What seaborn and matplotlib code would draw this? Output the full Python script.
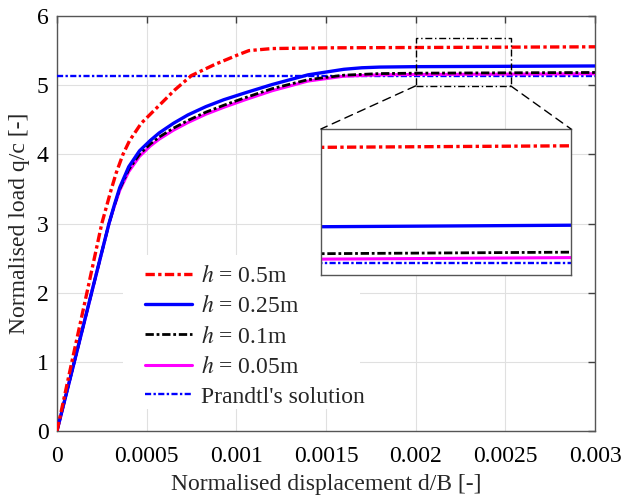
import numpy as np
import pandas as pd
import matplotlib
matplotlib.use('Agg')
import matplotlib.pyplot as plt
from matplotlib.patches import Rectangle, ConnectionPatch
import seaborn as sns

# ─── Data ───────────────────────────────────────────────────────────────────
x_h050 = [0, 0.000083, 0.000167, 0.00025, 0.0003, 0.00033, 0.000368, 0.000405, 0.00047,
          0.000563, 0.000656, 0.00075, 0.00088, 0.00101, 0.00107, 0.0012, 0.0015,
          0.002, 0.0025, 0.003]
q_h050 = [0, 1.0, 2.0, 3.0, 3.47, 3.73, 4.0, 4.2, 4.45,
          4.69, 4.93, 5.14, 5.3, 5.44, 5.5, 5.53, 5.54,
          5.545, 5.55, 5.555]

x_h025 = [0, 0.0000967, 0.000193, 0.00029, 0.00032, 0.00035, 0.0004, 0.00046, 0.00052,
          0.00057, 0.00065, 0.00073, 0.00083, 0.00093, 0.00105, 0.0012, 0.0014, 0.0016,
          0.0017, 0.0018, 0.002, 0.0025, 0.003]
q_h025 = [0, 1.0, 2.0, 3.0, 3.27, 3.52, 3.82, 4.05, 4.2,
          4.31, 4.45, 4.57, 4.69, 4.79, 4.89, 5.01, 5.15, 5.23,
          5.252, 5.262, 5.268, 5.273, 5.278]

x_h010 = [0, 0.0000967, 0.000193, 0.00029, 0.00032, 0.00035, 0.0004, 0.00046, 0.00052,
          0.00057, 0.00065, 0.00073, 0.00083, 0.00093, 0.00105, 0.0012, 0.0014, 0.0016,
          0.0018, 0.002, 0.0025, 0.003]
q_h010 = [0, 1.0, 2.0, 3.0, 3.26, 3.5, 3.78, 4.0, 4.15,
          4.25, 4.38, 4.49, 4.61, 4.71, 4.82, 4.95, 5.08, 5.145,
          5.168, 5.174, 5.179, 5.184]

x_h005 = [0, 0.0000967, 0.000193, 0.00029, 0.00032, 0.00035, 0.0004, 0.00046, 0.00052,
          0.00057, 0.00065, 0.00073, 0.00083, 0.00093, 0.00105, 0.0012, 0.0014, 0.0016,
          0.0018, 0.002, 0.0025, 0.003]
q_h005 = [0, 1.0, 2.0, 3.0, 3.25, 3.48, 3.75, 3.97, 4.12,
          4.22, 4.35, 4.46, 4.58, 4.68, 4.79, 4.92, 5.06, 5.13,
          5.15, 5.155, 5.16, 5.165]

x_prandtl = [0, 0.003]
q_prandtl = [5.14, 5.14]

labels = [r'$h$ = 0.5m', r'$h$ = 0.25m', r'$h$ = 0.1m', r'$h$ = 0.05m', "Prandtl's solution"]

sns.set_style('white')
plt.rcParams['font.family'] = ['Liberation Serif', 'DejaVu Serif']
plt.rcParams['mathtext.fontset'] = 'stix'
plt.rcParams['font.size'] = 17

series = [
    (x_h050, q_h050, dict(color='#ff0000', lw=2.4, linestyle=(0, (2.8, 1, 1, 1)))),
    (x_h025, q_h025, dict(color='#0000ff', lw=2.4, linestyle='-')),
    (x_h010, q_h010, dict(color='#000000', lw=2.0, linestyle=(0, (3, 1, 1, 1)))),
    (x_h005, q_h005, dict(color='#ff00ff', lw=2.2, linestyle='-')),
    (x_prandtl, q_prandtl, dict(color='#0000ff', lw=1.7, linestyle=(0, (2.6, 1, 1, 1)))),
]
draw_order = [4, 3, 2, 1, 0]

fig = plt.figure(figsize=(6.22, 4.98), dpi=100)
ax = fig.add_axes([0.0916, 0.1345, 0.865, 0.8333])

for i in draw_order:
    xs, qs, st = series[i]
    df = pd.DataFrame({'d': xs, 'q': qs})
    sns.lineplot(data=df, x='d', y='q', sort=False, estimator=None, ax=ax,
                 label=labels[i], zorder=3 + (4 - i) * 0.1, **st)

ax.set_xlim(0, 0.003)
ax.set_ylim(0, 6)
ax.set_xticks([0, 0.0005, 0.001, 0.0015, 0.002, 0.0025, 0.003])
ax.set_xticklabels(['0', '0.0005', '0.001', '0.0015', '0.002', '0.0025', '0.003'])
ax.set_yticks(range(0, 7))
ax.set_xlabel('Normalised displacement d/B [-]', fontsize=17, labelpad=5)
ax.set_ylabel('Normalised load q/c [-]', fontsize=17, labelpad=5)
ax.grid(True, color='#e0e0e0', lw=0.8)
ax.tick_params(direction='in', length=5, width=1, colors='#404040', labelcolor='black',
               labelsize=17, top=True, right=True)
ax.tick_params(axis='x', pad=11)
ax.tick_params(axis='y', pad=6)
for sp in ax.spines.values():
    sp.set_color('#555555')
    sp.set_linewidth(1.0)

# white patch behind the legend (covers the grid)
ax.add_patch(Rectangle((0.122, 0.053), 0.441, 0.372, transform=ax.transAxes,
                       fc='white', ec='none', zorder=1))

# legend in original order
handles, labs = ax.get_legend_handles_labels()
order = [labs.index(l) for l in labels]
leg = ax.legend([handles[k] for k in order], [labs[k] for k in order],
                loc='upper left', bbox_to_anchor=(0.163, 0.400), borderaxespad=0,
                frameon=False, fontsize=17, handlelength=2.0, handletextpad=0.4,
                labelspacing=0.35, borderpad=0)

# zoom rectangle and inset
rx0, rx1, ry0, ry1 = 0.002, 0.00253, 4.99, 5.68
ax.add_patch(Rectangle((rx0, ry0), rx1 - rx0, ry1 - ry0, fill=False, ec='black',
                       lw=1.0, linestyle=(0, (5, 2, 1, 2)), zorder=6))

axins = fig.add_axes([0.516, 0.448, 0.402, 0.293])
for i in draw_order:
    xs, qs, st = series[i]
    df = pd.DataFrame({'d': xs, 'q': qs})
    sns.lineplot(data=df, x='d', y='q', sort=False, estimator=None, ax=axins, **st)
axins.set_xlim(0.002, 0.00253)
axins.set_ylim(5.1, 5.609)
axins.set_xticks([])
axins.set_yticks([])
axins.set_xlabel('')
axins.set_ylabel('')
axins.set_facecolor('white')
for sp in axins.spines.values():
    sp.set_color('#555555')
    sp.set_linewidth(1.0)

for xa, xb in [(rx0, 0), (rx1, 1)]:
    con = ConnectionPatch(xyA=(xa, ry0), coordsA=ax.transData,
                          xyB=(xb, 1), coordsB=axins.transAxes,
                          color='black', lw=1.0, linestyle=(0, (6, 4)))
    fig.add_artist(con)

plt.savefig('out.png', dpi=100)
